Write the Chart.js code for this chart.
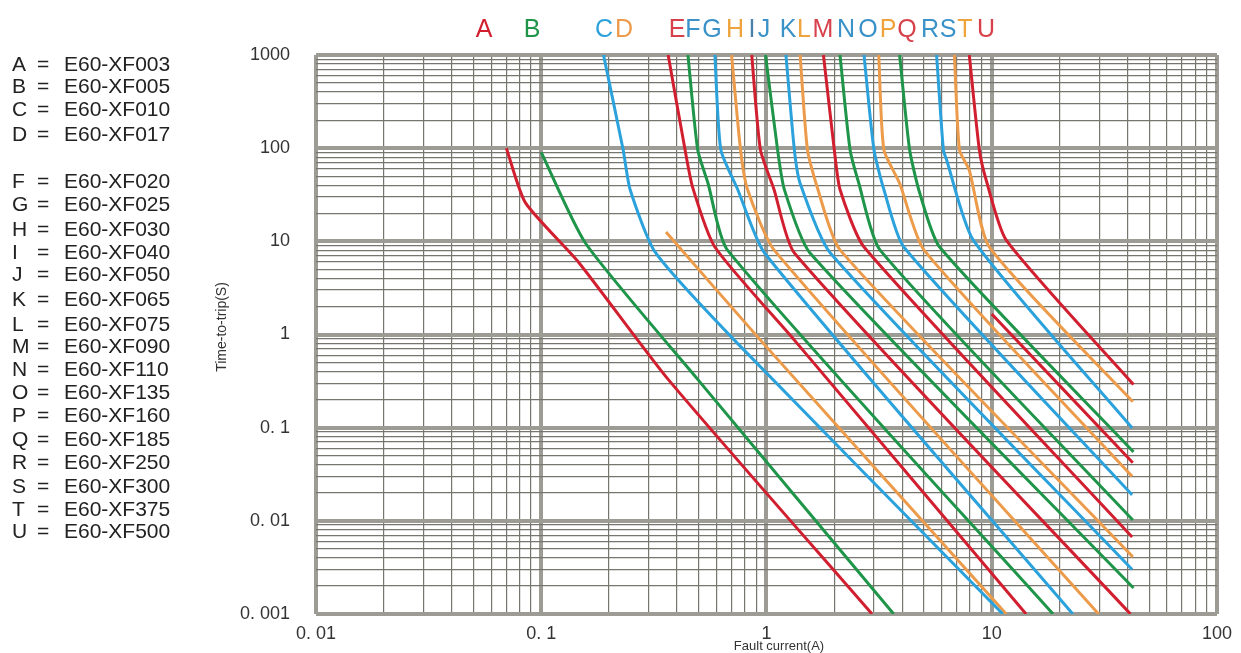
<!DOCTYPE html>
<html>
<head>
<meta charset="utf-8">
<script src="https://cdn.jsdelivr.net/npm/chart.js@4.4.1/dist/chart.umd.min.js"></script>
<style>
  html, body { margin: 0; padding: 0; background: #fff; }
  #wrap { width: 1241px; height: 653px; }
</style>
</head>
<body>
<div id="wrap"><canvas id="chart" width="1241" height="653"></canvas></div>
<script>
// trip curves: [fault current (A), time-to-trip (s)]
const curveA = [[0.07, 100], [0.085, 26], [0.147, 5.9], [0.366, 0.33], [2.94, 0.001]];
const curveB = [[0.1, 90], [0.157, 9.6], [0.495, 0.33], [3.67, 0.001]];
const curveC = [[0.189, 1000], [0.231, 96], [0.248, 36], [0.32, 7.7], [0.72, 0.87], [11.2, 0.001]];
const curveD = [[0.358, 12.6], [0.94, 0.87], [11.6, 0.001]];
const curveE = [[0.366, 1000], [0.435, 96], [0.47, 38], [0.59, 8.7], [1.33, 0.87], [14.2, 0.001]];
const curveF = [[0.448, 1000], [0.495, 96], [0.55, 42], [0.67, 8.1], [18.7, 0.001]];
const curveG = [[0.59, 1000], [0.627, 96], [0.745, 36], [0.98, 7.5], [22.9, 0.001]];
const curveH = [[0.70, 1000], [0.767, 96], [0.824, 36], [1.08, 8.1], [29.8, 0.001]];
const curveI = [[0.86, 1000], [0.94, 96], [1.08, 36], [1.33, 7.5], [41.3, 0.001]];
const curveJ = [[0.99, 1000], [1.12, 96], [1.2, 36], [1.56, 7.5], [42.6, 0.0019]];
const curveK = [[1.22, 1000], [1.33, 96], [1.41, 42], [1.92, 7.5], [42, 0.003]];
const curveL = [[1.41, 1000], [1.52, 96], [1.68, 38], [2.12, 8.1], [42.3, 0.0041]];
const curveM = [[1.79, 1000], [2.0, 96], [2.12, 36], [2.71, 8.7], [42, 0.0067]];
const curveN = [[2.12, 1000], [2.35, 96], [2.57, 42], [3.19, 8.1], [42.3, 0.0102]];
const curveO = [[2.71, 1000], [3.0, 96], [3.32, 36], [4.07, 8.7], [42, 0.019]];
const curveP = [[3.15, 1000], [3.32, 96], [3.9, 42], [5.0, 8.1], [42, 0.03]];
const curveQ = [[10, 1.66], [42.3, 0.042]];
const curveR = [[3.9, 1000], [4.32, 96], [4.79, 33], [5.87, 8.7], [42.6, 0.055]];
const curveS = [[5.69, 1000], [6.1, 96], [6.3, 75], [8.28, 10.3], [42, 0.099]];
const curveT = [[6.83, 1000], [7.19, 96], [7.95, 58], [9.75, 8.7], [42.3, 0.19]];
const curveU = [[7.95, 1000], [8.81, 96], [9.46, 45], [11.6, 10.3], [42.6, 0.29]];

const curves = [curveA, curveB, curveC, curveD, curveE, curveF, curveG, curveH, curveI, curveJ, curveK,
  curveL, curveM, curveN, curveO, curveP, curveQ, curveR, curveS, curveT, curveU];
const curveLetters = ["A", "B", "C", "D", "E", "F", "G", "H", "I", "J", "K",
  "L", "M", "N", "O", "P", "Q", "R", "S", "T", "U"];

// legend on the left (E is not listed in the original)
const legendKeys = ["A", "B", "C", "D", "F", "G", "H", "I", "J", "K", "L", "M", "N", "O", "P", "Q", "R", "S", "T", "U"];
const legendParts = ["E60-XF003", "E60-XF005", "E60-XF010", "E60-XF017", "E60-XF020", "E60-XF025",
  "E60-XF030", "E60-XF040", "E60-XF050", "E60-XF065", "E60-XF075", "E60-XF090", "E60-XF110",
  "E60-XF135", "E60-XF160", "E60-XF185", "E60-XF250", "E60-XF300", "E60-XF375", "E60-XF500"];

const xDecades = [0.01, 0.1, 1, 10, 100];
const xTickLabels = ["0. 01", "0. 1", "1", "10", "100"];
const yDecades = [0.001, 0.01, 0.1, 1, 10, 100, 1000];
const yTickLabels = ["0. 001", "0. 01", "0. 1", "1", "10", "100", "1000"];

// ---- styles / layout ----
const RED = "#d21f30", GREEN = "#1e9549", BLUE = "#2ba2dc", ORANGE = "#ec9b4b";
const lineColors = [RED, GREEN, BLUE, ORANGE];
const headColors = {
  A: RED, B: GREEN, C: BLUE, D: ORANGE, E: "#d8404c", F: "#3a92c8", G: "#3a92c8", H: "#eea33c",
  I: "#4a7fa8", J: "#3a92c8", K: "#3a92c8", L: "#eea33c", M: "#d8404c", N: "#3a92c8", O: "#3a92c8",
  P: "#eea33c", Q: "#d8404c", R: "#3a92c8", S: "#3a92c8", T: "#eea33c", U: "#d8404c"
};
const headX = { A: 484, B: 532, C: 604, D: 624, E: 677, F: 693, G: 712, H: 735, I: 752, J: 764,
  K: 788, L: 804, M: 823, N: 846, O: 868, P: 888, Q: 907, R: 930, S: 948, T: 965, U: 986 };
const legendY = [65, 87, 110, 135, 182, 205, 230, 253, 275, 300, 325, 347, 370, 393, 416, 440, 463, 487, 510, 532];

const FONT = '"Liberation Sans", Arial, sans-serif';

const isDecade = (v) => Math.abs(Math.log10(v) - Math.round(Math.log10(v))) < 1e-6;

// grid at 1..9 x 10^n
const logTicks = (min, max) => {
  const out = [];
  for (let e = Math.round(Math.log10(min)); e < Math.round(Math.log10(max)); e++) {
    for (let m = 1; m < 10; m++) out.push(m * Math.pow(10, e));
  }
  out.push(max);
  return out;
};

const gridColor = (c) => (c.tick && isDecade(c.tick.value) ? "#9c9c94" : "#76766e");
const gridWidth = (c) => (c.tick && isDecade(c.tick.value) ? 4 : 1.2);

const textPlugin = {
  id: "extraText",
  afterDraw(chart) {
    const ctx = chart.ctx;
    ctx.save();

    // letters above the plot
    ctx.font = "25px " + FONT;
    ctx.textAlign = "center";
    ctx.textBaseline = "middle";
    curveLetters.forEach((l) => {
      ctx.fillStyle = headColors[l];
      ctx.fillText(l, headX[l], 30);
    });

    // legend
    ctx.font = "21px " + FONT;
    ctx.fillStyle = "#222";
    ctx.textAlign = "left";
    legendKeys.forEach((k, i) => {
      const y = legendY[i];
      ctx.fillText(k, 12, y);
      ctx.fillText("=", 37, y);
      ctx.fillText(legendParts[i], 64, y);
    });

    // axis titles
    ctx.fillStyle = "#333";
    ctx.font = "13px " + FONT;
    ctx.textAlign = "center";
    ctx.fillText("Fault current(A)", 779, 646);

    ctx.translate(222, 327);
    ctx.rotate(-Math.PI / 2);
    ctx.font = "14px " + FONT;
    ctx.fillText("Time-to-trip(S)", 0, 0);

    ctx.restore();
  }
};

new Chart(document.getElementById("chart"), {
  type: "line",
  data: {
    datasets: curves.map((pts, i) => ({
      label: curveLetters[i],
      data: pts.map(([x, y]) => ({ x, y })),
      borderColor: lineColors[i % 4],
      borderWidth: 3,
      pointRadius: 0,
      tension: 0.2,
      fill: false
    }))
  },
  options: {
    responsive: false,
    animation: false,
    devicePixelRatio: 1,
    layout: { padding: { top: 55, right: 19, left: 0, bottom: 0 } },
    plugins: { legend: { display: false }, tooltip: { enabled: false } },
    scales: {
      x: {
        type: "logarithmic",
        min: 0.01,
        max: 100,
        afterBuildTicks: (s) => { s.ticks = logTicks(0.01, 100).map((v) => ({ value: v })); },
        afterFit: (s) => { s.height = 39; },
        ticks: {
          autoSkip: false,
          maxRotation: 0,
          padding: 9,
          color: "#333",
          font: { family: FONT, size: 18 },
          callback: (v) => (isDecade(v) ? xTickLabels[xDecades.findIndex((d) => Math.abs(d - v) / d < 1e-6)] : "")
        },
        grid: { color: gridColor, lineWidth: gridWidth, drawTicks: false },
        border: { display: false }
      },
      y: {
        type: "logarithmic",
        min: 0.001,
        max: 1000,
        afterBuildTicks: (s) => { s.ticks = logTicks(0.001, 1000).map((v) => ({ value: v })); },
        afterFit: (s) => { s.width = 316; },
        ticks: {
          autoSkip: false,
          padding: 26,
          color: "#333",
          font: { family: FONT, size: 18 },
          callback: (v) => (isDecade(v) ? yTickLabels[yDecades.findIndex((d) => Math.abs(d - v) / d < 1e-6)] : "")
        },
        grid: { color: gridColor, lineWidth: gridWidth, drawTicks: false },
        border: { display: false }
      }
    }
  },
  plugins: [textPlugin]
});
</script>
</body>
</html>
